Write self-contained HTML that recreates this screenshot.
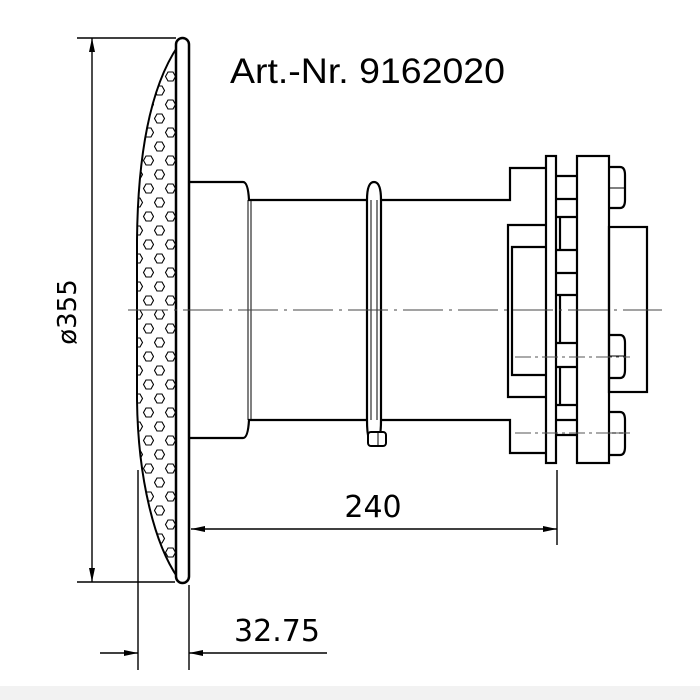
<!DOCTYPE html>
<html><head><style>
html,body{margin:0;padding:0;background:#fff;}
svg{display:block;}
</style></head><body>
<svg width="700" height="700" viewBox="0 0 700 700" xmlns="http://www.w3.org/2000/svg">
<defs>
<pattern id="hex" x="0" y="0" width="22" height="28" patternUnits="userSpaceOnUse">
<polygon points="3,2 8,2 10.5,6.5 8,11 3,11 0.5,6.5" fill="none" stroke="#000" stroke-width="1.1"/>
<polygon points="14,16 19,16 21.5,20.5 19,25 14,25 11.5,20.5" fill="none" stroke="#000" stroke-width="1.1"/>
</pattern>
<clipPath id="gc"><path d="M178,46 C155,80 138,140 137,240 L137,400 C138,480 155,545 178,578 Z"/></clipPath>
</defs>
<rect width="700" height="700" fill="#fff"/>
<rect x="0" y="686" width="700" height="14" fill="#f2f2f2"/>

<text x="230" y="83" textLength="275" lengthAdjust="spacingAndGlyphs" style="font-family:'Liberation Sans',sans-serif;font-size:35px" fill="#000">Art.-Nr. 9162020</text>

<rect x="130" y="40" width="50" height="550" fill="url(#hex)" clip-path="url(#gc)"/>
<path d="M178,46 C155,80 138,140 137,240 L137,400 C138,480 155,545 178,578" fill="none" stroke="#000" stroke-width="2"/>
<rect x="176" y="38" width="13" height="545" rx="6.5" fill="#fff" stroke="#000" stroke-width="2.5"/>

<g fill="none" stroke="#000" stroke-width="2.2">
<path d="M190,182 L243,182 Q248,182 249,200 L367,200"/>
<path d="M190,438 L243,438 Q248,438 249,420 L367,420"/>
<path d="M381,200 L510,200 L510,168 L546,168"/>
<path d="M381,420 L510,420 L510,453 L546,453"/>
<path d="M367,200 Q367,182 374,182 Q381,182 381,200 L381,420 Q381,445 374,445 Q367,445 367,420 Z"/>
</g>
<g stroke="#000" stroke-width="1" fill="none">
<line x1="248" y1="200" x2="248" y2="420"/><line x1="251" y1="200" x2="251" y2="420"/>
<line x1="371" y1="200" x2="371" y2="420"/><line x1="377" y1="200" x2="377" y2="420"/>
</g>
<rect x="368" y="432" width="18" height="14" rx="3" fill="#fff" stroke="#000" stroke-width="2"/>
<line x1="378" y1="432" x2="378" y2="446" stroke="#000" stroke-width="1"/>

<g fill="none" stroke="#000" stroke-width="2.2">
<path d="M546,225 L508,225 L508,397 L546,397"/>
<path d="M546,247 L512,247 L512,375 L546,375"/>
<rect x="546" y="156" width="10" height="307" fill="#fff"/>
<rect x="577" y="156" width="32" height="307" fill="#fff"/>
<rect x="609" y="227" width="38" height="165"/>
<path d="M556,176 L577,176 M556,199 L577,199"/>
<path d="M556,217 L577,217 M560,217 L560,250 M556,250 L577,250"/>
<path d="M556,273 L577,273 M556,295 L577,295"/>
<path d="M560,295 L560,343 M556,343 L577,343"/>
<path d="M556,367 L577,367 M560,367 L560,405 M556,405 L577,405"/>
<path d="M556,420 L577,420 M556,435 L577,435"/>
<path d="M609,167 L620,167 Q625,167 625,175 L625,200 Q625,208 620,208 L609,208"/>
<path d="M609,335 L620,335 Q625,335 625,343 L625,370 Q625,378 620,378 L609,378"/>
<path d="M609,412 L620,412 Q625,412 625,420 L625,447 Q625,455 620,455 L609,455"/>
</g>
<g stroke="#000" stroke-width="1" fill="none">
<line x1="609" y1="188" x2="625" y2="188"/>
<line x1="609" y1="356" x2="625" y2="356"/>
<line x1="609" y1="433" x2="625" y2="433"/>
</g>
<g stroke="#555" stroke-width="1" stroke-dasharray="16,4,3,4">
<line x1="515" y1="357" x2="630" y2="357"/>
<line x1="515" y1="433" x2="630" y2="433"/>
</g>

<line x1="128" y1="310" x2="662" y2="310" stroke="#444" stroke-width="1" stroke-dasharray="40,6,3,6"/>

<g stroke="#000" stroke-width="1.4">
<line x1="77" y1="38" x2="176" y2="38"/>
<line x1="77" y1="582" x2="175" y2="582"/>
<line x1="92" y1="38" x2="92" y2="582"/>
</g>
<path d="M92,38 L89,52 L95,52 Z M92,582 L89,568 L95,568 Z" fill="#000"/>
<text transform="translate(76,312) rotate(-90)" text-anchor="middle" style="font-family:'DejaVu Sans',sans-serif;font-size:26px" fill="#000">ø355</text>

<g stroke="#000" stroke-width="1.4">
<line x1="557" y1="470" x2="557" y2="545"/>
<line x1="191" y1="529" x2="557" y2="529"/>
</g>
<path d="M191,529 L205,526 L205,532 Z M557,529 L543,526 L543,532 Z" fill="#000"/>
<text x="373" y="517" text-anchor="middle" style="font-family:'DejaVu Sans',sans-serif;font-size:30px" fill="#000">240</text>

<g stroke="#000" stroke-width="1.4">
<line x1="138" y1="470" x2="138" y2="670"/>
<line x1="189" y1="585" x2="189" y2="670"/>
<line x1="100" y1="653" x2="138" y2="653"/>
<line x1="189" y1="653" x2="327" y2="653"/>
</g>
<path d="M138,653 L124,650 L124,656 Z M189,653 L203,650 L203,656 Z" fill="#000"/>
<text x="277" y="641" text-anchor="middle" style="font-family:'DejaVu Sans',sans-serif;font-size:30px" fill="#000">32.75</text>
</svg>
</body></html>
